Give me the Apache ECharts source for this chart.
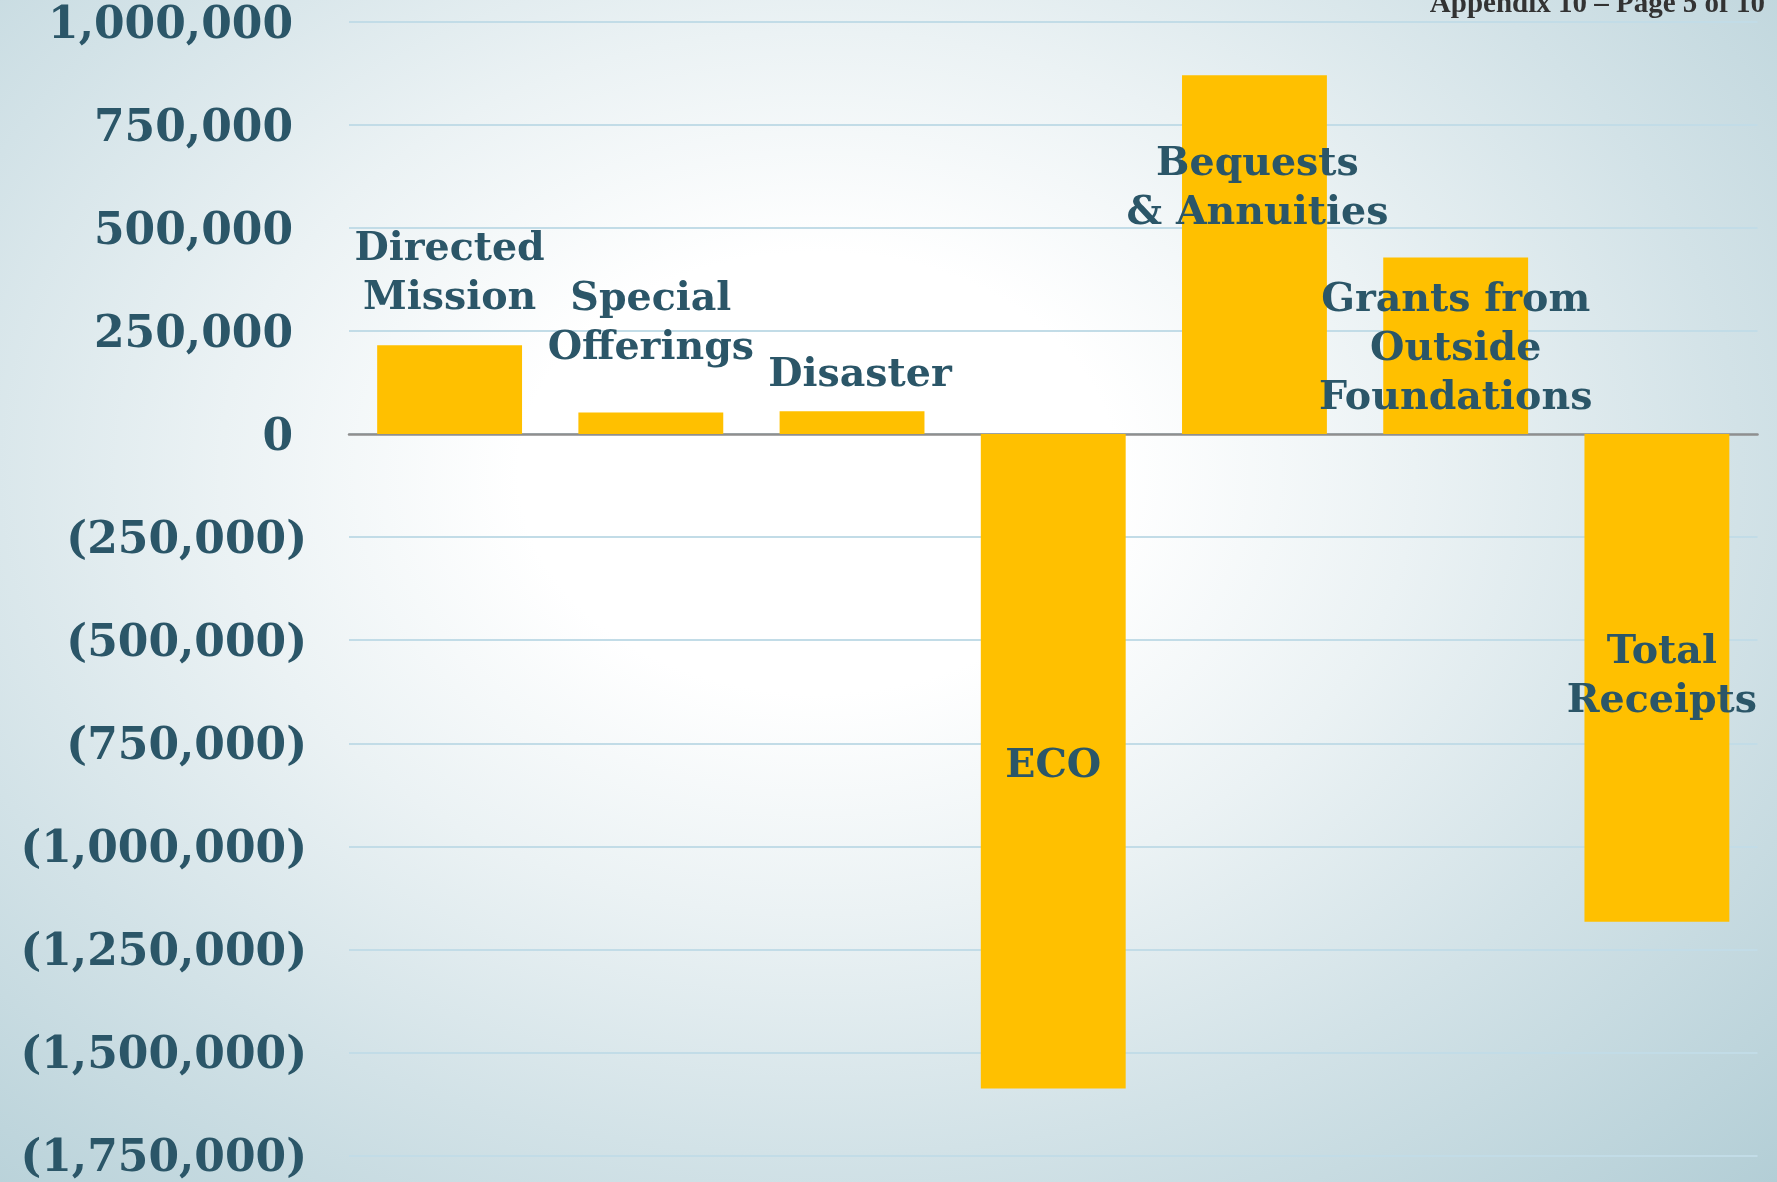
<!DOCTYPE html>
<html>
<head>
<meta charset="utf-8">
<script src="https://cdn.jsdelivr.net/npm/echarts@6/dist/echarts.min.js"></script>
<style>
  html, body { margin: 0; padding: 0; width: 1777px; height: 1182px; overflow: hidden; }
  #chart {
    width: 1777px; height: 1182px;
    background: radial-gradient(ellipse farthest-corner at 46% 40%, #ffffff 0%, #ffffff 22%, #ebf2f4 44%, #d2e2e7 68%, #b3ced6 100%);
  }
</style>
</head>
<body>
<div id="chart"></div>
<script>
// ---- data ----
const categories = ['Directed\nMission', 'Special\nOfferings', 'Disaster', 'ECO', 'Bequests\n& Annuities', 'Grants from\nOutside\nFoundations', 'Total\nReceipts'];
const values = [215000, 52000, 55000, -1587000, 870000, 428000, -1183000];
const yMin = -1750000;
const yMax = 1000000;
const yStep = 250000;
const pageNote = 'Appendix 10 \u2013 Page 5 of 10';

// ---- layout (pixel offsets of category labels from bar end) ----
const labelOffsets = [[0, -71], [0, -88], [8, -36], [0, -322], [3, 114], [0, 92], [5, -245]];

const textColor = '#2b5668';
const labelFont = 'DejaVu Serif';

function fmt(v) {
  return Math.abs(v).toString().replace(/\B(?=(\d{3})+(?!\d))/g, ',');
}

const chart = echarts.init(document.getElementById('chart'), null, { renderer: 'canvas' });

chart.setOption({
  animation: false,
  backgroundColor: 'transparent',
  grid: { left: 349, right: 19.5, top: 21.6, bottom: 26.3, containLabel: false },
  xAxis: {
    type: 'category',
    data: categories,
    axisLine: { show: true, onZero: true, lineStyle: { color: '#8f8f8f', width: 2.5 } },
    axisTick: { show: false },
    axisLabel: { show: false },
    splitLine: { show: false }
  },
  yAxis: {
    type: 'value',
    min: yMin,
    max: yMax,
    interval: yStep,
    axisLine: { show: false },
    axisTick: { show: false },
    splitLine: { show: true, lineStyle: { color: '#c2dce7', width: 2 } },
    axisLabel: {
      margin: 42,
      formatter: function (v) {
        if (v < 0) return '{n|(' + fmt(v) + ')}';
        return '{q|' + fmt(v) + '}';
      },
      rich: {
        n: { fontFamily: labelFont, fontWeight: 'bold', fontSize: 44, color: textColor, padding: [8, 0, 0, 0] },
        q: { fontFamily: labelFont, fontWeight: 'bold', fontSize: 44, color: textColor, padding: [10, 14, 0, 0] }
      }
    }
  },
  series: [{
    type: 'bar',
    data: values,
    barWidth: '72%',
    itemStyle: { color: '#FFC000' },
    label: { show: false }
  }]
});

const graphics = categories.map(function (name, i) {
  const p = chart.convertToPixel({ seriesIndex: 0 }, [i, values[i]]);
  return {
    type: 'text',
    z: 100,
    x: p[0] + labelOffsets[i][0],
    y: p[1] + labelOffsets[i][1],
    style: {
      text: name,
      align: 'center',
      verticalAlign: 'middle',
      fontFamily: labelFont,
      fontWeight: 'bold',
      fontSize: 39.5,
      lineHeight: 49,
      fill: textColor
    }
  };
});

graphics.push({
  type: 'text',
  z: 100,
  right: 12,
  top: -10,
  style: {
    text: pageNote,
    fontFamily: 'Liberation Serif',
    fontWeight: 'bold',
    fontSize: 29,
    fill: '#333333'
  }
});

chart.setOption({ graphic: graphics });
</script>
</body>
</html>
